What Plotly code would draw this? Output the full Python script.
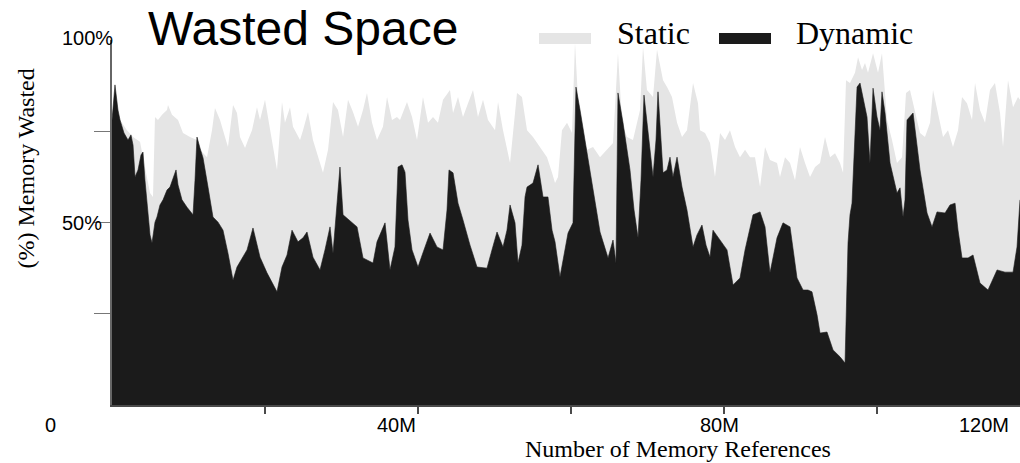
import plotly.graph_objects as go

# ---------------- data (x in millions of memory references, y in % wasted) ----------------
x_dynamic = [0.0, 0.13, 0.39, 0.78, 1.05, 1.57, 2.09, 2.48, 2.75, 3.01, 3.40, 3.79, 4.05, 4.31, 4.58, 4.97,
             5.23, 5.62, 5.88, 6.27, 6.67, 7.19, 7.58, 7.97, 8.37, 8.63, 9.15, 9.80, 10.59, 10.85, 11.11,
             11.50, 11.90, 12.55, 13.20, 13.86, 14.51, 15.16, 15.82, 16.34, 16.99, 17.65, 18.43, 18.95,
             19.35, 20.26, 20.92, 21.57, 22.22, 22.88, 23.53, 24.31, 24.97, 25.49, 26.27, 27.19, 27.84,
             28.50, 28.89, 29.28, 29.80, 30.20, 30.72, 31.37, 32.03, 32.81, 33.46, 34.12, 34.64, 35.16,
             35.69, 36.34, 36.99, 37.39, 37.91, 38.30, 38.69, 39.22, 40.00, 40.78, 41.57, 42.48, 43.27,
             43.79, 44.05, 44.58, 45.23, 45.88, 46.80, 47.71, 49.02, 49.67, 50.33, 51.11, 51.63, 52.03,
             52.68, 53.07, 53.59, 53.99, 54.25, 55.03, 55.69, 56.34, 56.99, 57.52, 57.91, 58.56, 59.61,
             60.26, 60.65, 61.18, 61.83, 62.48, 63.40, 63.79, 64.44, 64.84, 65.49, 65.88, 66.14, 66.80,
             67.71, 68.24, 68.76, 69.15, 69.54, 70.07, 70.72, 71.11, 71.37, 72.03, 72.55, 72.94, 73.33,
             73.86, 74.51, 75.16, 75.95, 76.47, 77.12, 77.65, 78.17, 78.56, 79.48, 80.39, 81.18, 82.09,
             82.75, 83.40, 83.79, 84.71, 85.36, 86.01, 86.93, 87.71, 88.63, 89.54, 90.33, 90.98, 91.50,
             92.16, 92.55, 93.46, 94.25, 95.16, 95.82, 96.21, 96.47, 96.73, 96.86, 97.39, 97.78, 98.17,
             98.69, 99.08, 99.48, 100.00, 100.39, 100.65, 101.05, 101.70, 102.61, 103.01, 103.40, 103.66,
             103.92, 104.71, 105.62, 106.54, 107.19, 107.84, 108.89, 109.54, 110.20, 110.59, 111.11,
             111.90, 112.55, 113.46, 114.51, 115.69, 116.73, 117.78, 118.30, 118.69]
dynamic = [78.0, 80.8, 87.7, 80.8, 78.1, 74.5, 72.6, 74.0, 71.2, 62.5, 64.4, 68.5, 69.3, 61.6, 54.8, 46.6,
           44.4, 50.1, 51.5, 54.8, 56.2, 58.9, 59.7, 62.2, 64.4, 60.3, 56.2, 54.2, 52.1, 61.6, 73.4,
           70.4, 67.7, 59.7, 51.5, 50.1, 47.9, 41.6, 34.2, 37.8, 40.3, 42.5, 48.5, 43.8,
           40.5, 36.2, 33.7, 31.0, 37.8, 41.1, 47.9, 44.7, 45.8, 47.4, 40.5, 37.0, 42.5,
           48.8, 41.6, 52.1, 65.2, 52.1, 51.2, 50.1, 48.8, 40.3, 39.7, 38.9, 44.7, 47.4,
           49.9, 37.0, 43.3, 65.2, 65.8, 63.8, 50.7, 42.5, 37.8, 42.5, 47.1, 43.3, 42.5,
           53.4, 64.4, 63.6, 55.3, 50.7, 43.8, 37.8, 37.5, 42.5, 47.4, 43.3, 47.9, 54.8,
           49.9, 38.9, 43.8, 57.0, 59.7, 60.8, 65.8, 57.0, 57.0, 47.9, 44.7, 35.1, 47.1,
           49.9, 87.1, 80.8, 72.6, 64.4, 53.4, 47.4, 43.0, 40.3, 45.2, 38.9, 85.5, 77.3,
           64.4, 53.4, 45.8, 61.6, 84.9, 75.3, 62.5, 72.6, 85.8, 63.6, 64.4, 67.9, 62.5,
           67.9, 59.7, 53.4, 43.3, 46.6, 49.3, 43.8, 40.5, 47.9, 45.2, 42.5, 32.9, 34.8,
           42.5, 48.8, 52.1, 52.9, 48.8, 36.2, 45.8, 49.9, 48.8, 34.8, 31.5, 31.5, 31.0,
           24.7, 19.7, 20.0, 15.1, 13.2, 11.5, 44.4, 52.1, 55.3, 60.8, 87.1, 88.2, 84.4,
           78.9, 66.3, 86.8, 78.9, 75.3, 85.8, 80.0, 66.3, 58.1, 59.5, 51.5, 56.2,
           78.1, 80.0, 64.4, 52.6, 48.8, 52.9, 52.6, 54.8, 55.3, 47.9, 40.3,
           40.3, 41.1, 33.4, 31.5, 37.0, 36.4, 36.4, 43.3, 56.2]

x_static = [0.0, 0.13, 0.39, 0.78, 1.05, 1.96, 2.75, 3.66, 4.05, 4.58, 4.97, 5.36, 5.62, 6.01, 6.54, 7.19,
            7.32, 7.84, 8.63, 9.28, 10.20, 11.11, 11.50, 12.42, 13.07, 13.46, 14.12, 14.77, 15.16, 15.82,
            16.34, 16.73, 17.39, 17.78, 18.30, 18.95, 19.35, 20.00, 20.65, 21.05, 21.57, 22.22, 22.61,
            23.27, 23.66, 24.58, 24.97, 25.62, 26.27, 26.93, 27.58, 28.24, 28.89, 29.54, 30.20, 30.85,
            31.50, 32.16, 32.81, 33.33, 33.99, 34.64, 35.42, 35.95, 36.60, 37.25, 37.65, 38.56, 39.22,
            39.87, 40.65, 41.31, 41.96, 42.61, 43.27, 44.18, 44.58, 45.23, 45.88, 46.54, 47.19, 47.84,
            48.50, 49.15, 50.07, 50.46, 51.11, 52.03, 52.94, 53.59, 54.25, 55.03, 55.95, 56.86, 57.52,
            57.91, 58.30, 58.82, 59.48, 60.13, 60.52, 61.18, 62.09, 62.88, 63.79, 64.71, 65.49, 66.14,
            66.67, 67.32, 68.10, 69.02, 69.41, 69.93, 70.72, 71.24, 72.03, 72.55, 73.20, 73.86, 74.51,
            75.16, 75.95, 76.60, 76.86, 77.52, 78.17, 78.82, 79.48, 80.13, 80.78, 81.44, 82.09, 82.75,
            83.40, 84.05, 84.71, 85.36, 86.01, 86.93, 87.32, 87.97, 88.63, 89.28, 89.93, 90.59, 91.24,
            91.90, 92.55, 93.20, 93.86, 94.51, 95.16, 95.56, 95.95, 96.47, 97.12, 97.52, 98.04, 98.43,
            98.82, 99.48, 100.13, 100.65, 101.31, 101.96, 102.61, 103.27, 103.79, 104.31, 104.97, 105.62,
            106.27, 106.93, 107.32, 107.97, 108.63, 109.28, 109.93, 110.59, 111.11, 111.76, 112.42,
            112.81, 113.46, 114.12, 114.77, 115.42, 116.08, 116.47, 117.12, 117.78, 118.43, 118.69]
static = [78.0, 80.8, 86.8, 80.3, 78.1, 75.3, 73.4, 72.1, 67.9, 62.5, 58.1, 57.0, 78.9, 78.1, 79.5, 80.8,
          82.2, 79.5, 78.1, 74.5, 73.4, 72.6, 69.9, 67.9, 75.3, 81.4, 78.1, 73.4, 70.7, 82.2,
          80.0, 73.4, 70.4, 72.6, 75.3, 81.6, 78.1, 83.6, 76.2, 70.7, 64.4, 83.0, 77.3,
          81.6, 76.2, 72.6, 75.3, 80.3, 72.6, 67.9, 63.6, 69.9, 83.0, 80.8, 73.4, 83.6,
          80.3, 76.2, 80.8, 85.5, 77.3, 72.6, 76.2, 84.4, 78.1, 78.9, 78.1, 83.0, 78.9,
          72.6, 84.4, 77.3, 78.9, 77.3, 83.6, 86.3, 80.0, 84.4, 78.9, 82.7, 86.3, 78.9,
          83.6, 78.1, 75.3, 83.0, 75.3, 66.3, 85.5, 84.4, 75.3, 73.4, 70.7, 67.9, 63.6,
          60.8, 62.5, 75.3, 77.3, 74.5, 99.2, 73.4, 69.9, 70.7, 67.9, 69.9, 71.8, 96.4,
          77.3, 73.4, 72.6, 80.8, 98.1, 86.3, 84.4, 97.3, 89.0, 87.1, 84.4, 77.3, 73.4,
          75.3, 88.2, 82.7, 75.3, 74.5, 71.8, 62.5, 74.5, 72.6, 75.3, 70.7, 67.9, 69.9,
          67.9, 67.9, 59.7, 70.7, 67.1, 66.3, 62.5, 67.9, 66.3, 61.6, 70.7, 66.3, 62.5,
          65.2, 66.3, 73.4, 67.9, 69.0, 66.3, 63.6, 89.0, 88.2, 91.0, 95.3, 91.8, 93.7,
          91.0, 96.4, 91.0, 96.4, 78.1, 72.6, 66.3, 67.9, 85.5, 86.3, 80.0, 74.5,
          73.4, 77.3, 86.3, 80.0, 73.4, 75.3, 70.7, 75.3, 84.4, 82.7, 78.1,
          88.2, 80.8, 77.3, 86.3, 88.2, 80.0, 70.7, 89.0, 81.6, 84.4, 83.6]

x_tick_marks = [20, 40, 60, 80, 100]
y_tick_marks = [25, 50, 75]
x_tick_labels = ["0", "40M", "80M", "120M"]
x_tick_label_pos = [-8.1, 37.25, 79.35, 113.99]
y_tick_labels = ["100%", "50%"]
y_tick_label_pos = [100, 50]

X_MAX = 118.69
Y_MAX = 100

STATIC_COLOR = "#e5e5e5"
DYNAMIC_COLOR = "#1b1b1b"
AXIS_COLOR = "#4a4a4a"
SANS = "Liberation Sans, Arial, sans-serif"
SERIF = "Liberation Serif, Times New Roman, serif"

# plot area in pixels (used only for text/legend placement)
L, R, T, B = 112, 1020, 40, 405


def px(xp):
    return (xp - L) / (R - L)


def py(yp):
    return (B - yp) / (B - T)


fig = go.Figure()
fig.add_trace(go.Scatter(x=x_static, y=static, mode="lines", fill="tozeroy",
                         fillcolor=STATIC_COLOR, line=dict(width=0, color=STATIC_COLOR),
                         name="Static", showlegend=False, hoverinfo="skip"))
fig.add_trace(go.Scatter(x=x_dynamic, y=dynamic, mode="lines", fill="tozeroy",
                         fillcolor=DYNAMIC_COLOR, line=dict(width=0.6, color=DYNAMIC_COLOR),
                         name="Dynamic", showlegend=False, hoverinfo="skip"))

annotations = []
# title
annotations.append(dict(text="Wasted Space", xref="paper", yref="paper", x=px(146), y=py(28.4),
                        xanchor="left", yanchor="middle", showarrow=False,
                        font=dict(family=SANS, size=48, color="#000")))
# legend texts
annotations.append(dict(text="Static", xref="paper", yref="paper", x=px(615), y=py(33.2),
                        xanchor="left", yanchor="middle", showarrow=False,
                        font=dict(family=SERIF, size=32, color="#000")))
annotations.append(dict(text="Dynamic", xref="paper", yref="paper", x=px(794), y=py(33.2),
                        xanchor="left", yanchor="middle", showarrow=False,
                        font=dict(family=SERIF, size=32, color="#000")))
# x tick labels
for lab, v in zip(x_tick_labels, x_tick_label_pos):
    annotations.append(dict(text=lab, xref="paper", yref="paper", x=v / X_MAX, y=py(425),
                            xanchor="center", yanchor="middle", showarrow=False,
                            font=dict(family=SANS, size=20, color="#000")))
# y tick labels
y_label_right = {100: 115, 50: 104}
y_label_center_px = {100: 38, 50: 223}
for lab, v in zip(y_tick_labels, y_tick_label_pos):
    annotations.append(dict(text=lab, xref="paper", yref="paper", x=px(y_label_right[v]),
                            y=py(y_label_center_px[v]),
                            xanchor="right", yanchor="middle", showarrow=False,
                            font=dict(family=SANS, size=20, color="#000")))
# axis titles
annotations.append(dict(text="Number of Memory References", xref="paper", yref="paper",
                        x=px(678), y=py(448.6), xanchor="center", yanchor="middle", showarrow=False,
                        font=dict(family=SERIF, size=24, color="#000")))
annotations.append(dict(text="(%) Memory Wasted", xref="paper", yref="paper",
                        x=px(25), y=py(168.5), xanchor="center", yanchor="middle", showarrow=False,
                        textangle=-90, font=dict(family=SERIF, size=24, color="#000")))

shapes = [
    dict(type="rect", xref="paper", yref="paper", x0=px(539), x1=px(591), y0=py(44), y1=py(33),
         fillcolor=STATIC_COLOR, line=dict(width=0)),
    dict(type="rect", xref="paper", yref="paper", x0=px(719), x1=px(771), y0=py(44), y1=py(33),
         fillcolor=DYNAMIC_COLOR, line=dict(width=0)),
]

fig.update_layout(
    width=1020, height=463,
    margin=dict(l=L, r=1020 - R, t=T, b=463 - B),
    paper_bgcolor="white", plot_bgcolor="white",
    showlegend=False,
    annotations=annotations,
    shapes=shapes,
    xaxis=dict(range=[0, X_MAX], showgrid=False, zeroline=False, showline=True,
               linecolor=AXIS_COLOR, linewidth=1.5, ticks="outside", ticklen=7, tickwidth=1.5,
               tickcolor=AXIS_COLOR, tickvals=x_tick_marks, showticklabels=False),
    yaxis=dict(range=[0, Y_MAX], showgrid=False, zeroline=False, showline=True,
               linecolor="#666", linewidth=1.5, ticks="outside", ticklen=16, tickwidth=1.2,
               tickcolor="#777", tickvals=y_tick_marks, showticklabels=False),
)

fig.write_html("out.html", config={"displayModeBar": False},
               post_script="document.body.style.margin='0';document.body.style.overflow='hidden';")
